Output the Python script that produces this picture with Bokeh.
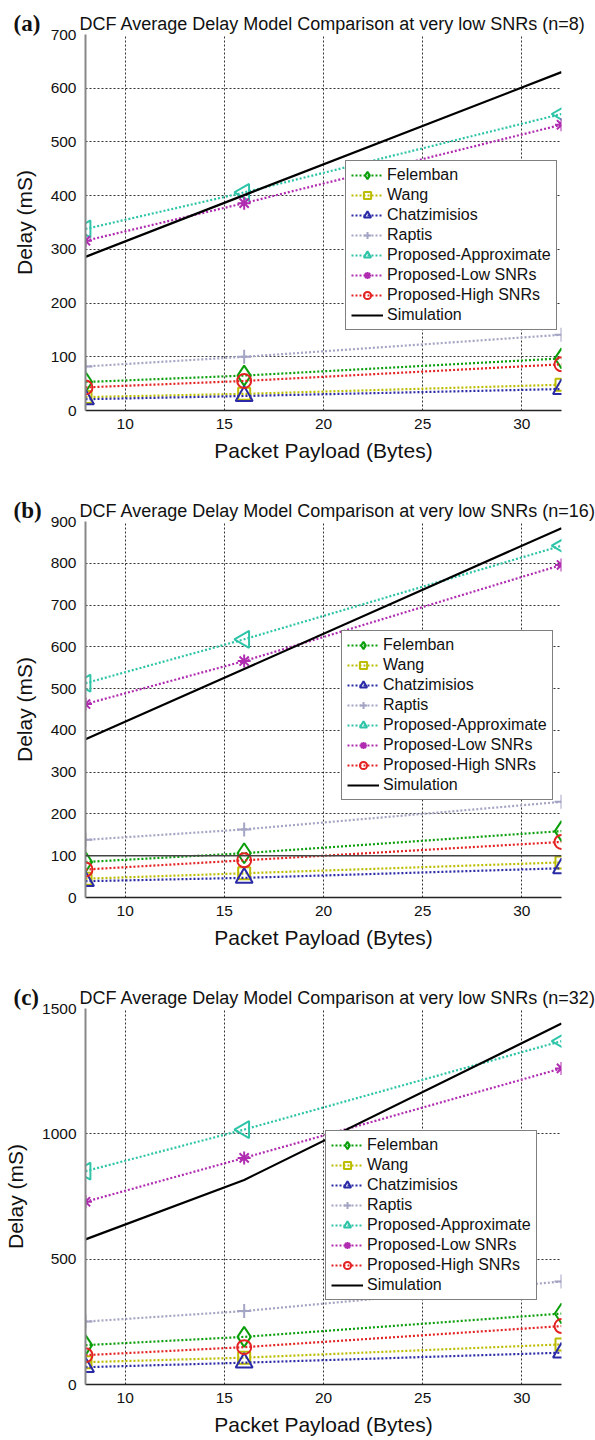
import numpy as np
from bokeh.plotting import figure
from bokeh.models import Legend, LegendItem, Label, Span, FixedTicker, Range1d
from bokeh.layouts import column
from bokeh.embed import file_html
from bokeh.resources import INLINE

# ---------------- data ----------------
payload = [8, 16, 32]
x_ticks = [10, 15, 20, 25, 30]

series_names = ["Felemban", "Wang", "Chatzimisios", "Raptis",
                "Proposed-Approximate", "Proposed-Low SNRs",
                "Proposed-High SNRs", "Simulation"]

# panel (a) n=8
a_felemban = [53, 65, 97]
a_wang = [25, 31, 48]
a_chatz = [21, 27, 40]
a_raptis = [82, 100, 141]
a_approx = [338, 406, 552]
a_low = [316, 386, 532]
a_high = [43, 55, 86]
a_sim = [286, 401, 630]

# panel (b) n=16
b_felemban = [85, 106, 159]
b_wang = [45, 58, 84]
b_chatz = [39, 47, 70]
b_raptis = [138, 163, 229]
b_approx = [513, 618, 842]
b_low = [463, 566, 796]
b_high = [67, 89, 133]
b_sim = [379, 547, 884]
b_ref_level = 100

# panel (c) n=32
c_felemban = [157, 190, 283]
c_wang = [89, 107, 160]
c_chatz = [69, 87, 127]
c_raptis = [251, 293, 411]
c_approx = [851, 1017, 1370]
c_low = [729, 904, 1261]
c_high = [117, 149, 233]
c_sim = [579, 816, 1440]

titles = ["DCF Average Delay Model Comparison at very low SNRs (n=8)",
          "DCF Average Delay Model Comparison at very low SNRs (n=16)",
          "DCF Average Delay Model Comparison at very low SNRs (n=32)"]
panel_tags = ["(a)", "(b)", "(c)"]
y_max = [700, 900, 1500]
y_step = [100, 100, 500]

# ---------------- styles ----------------
styles = [
    dict(color="#0a9e0a", marker="diamond", size=20, angle=0.0),
    dict(color="#bcbc00", marker="square", size=12, angle=0.0),
    dict(color="#2a2aa6", marker="triangle", size=17, angle=0.0),
    dict(color="#a4a4c4", marker="cross", size=14, angle=0.0),
    dict(color="#2ec4a8", marker="triangle", size=17, angle=np.pi / 2),
    dict(color="#b02cb0", marker="asterisk", size=13, angle=0.0),
    dict(color="#e42222", marker="circle", size=14, angle=0.0),
    dict(color="black", marker=None, size=0, angle=0.0),
]

FONT = "Liberation Sans"


def make_panel(idx, data, legend_loc, height, bottom):
    p = figure(width=595, height=height, output_backend="svg",
               toolbar_location=None, title=None,
               x_range=Range1d(8, 32), y_range=Range1d(0, y_max[idx]),
               min_border_left=85, min_border_right=34,
               min_border_top=34, min_border_bottom=bottom)
    p.outline_line_color = None
    p.background_fill_color = "white"
    p.border_fill_color = "white"

    p.xaxis.ticker = FixedTicker(ticks=x_ticks)
    p.yaxis.ticker = FixedTicker(ticks=list(range(0, y_max[idx] + 1, y_step[idx])))
    p.xaxis.axis_label = "Packet Payload (Bytes)"
    p.yaxis.axis_label = "Delay (mS)"
    for ax in (p.xaxis, p.yaxis):
        ax.axis_label_text_font = FONT
        ax.axis_label_text_font_style = "normal"
        ax.axis_label_text_font_size = "21px"
        ax.axis_label_text_color = "#111111"
        ax.major_label_text_font = FONT
        ax.major_label_text_font_size = "15.5px"
        ax.major_label_text_color = "#111111"
        ax.major_tick_in = 0
        ax.major_tick_out = 0
        ax.minor_tick_line_color = None
    p.yaxis.axis_line_color = "#888888"
    p.yaxis.axis_line_width = 2
    p.xaxis.axis_line_color = "#222222"
    p.xaxis.axis_line_width = 1.5
    p.xaxis.major_label_standoff = 8
    p.yaxis.major_label_standoff = 9
    p.xaxis.axis_label_standoff = 7
    p.yaxis.axis_label_standoff = 12

    for g in (p.xgrid, p.ygrid):
        g.grid_line_color = "#333333"
        g.grid_line_dash = "2 2"
        g.grid_line_width = 1

    items = []
    for name, ys, st in zip(series_names, data, styles):
        if st["marker"] is None:
            lr = p.line(payload, ys, line_color=st["color"], line_width=2.2)
            items.append(LegendItem(label=name, renderers=[lr]))
        else:
            lr = p.line(payload, ys, line_color=st["color"], line_width=2.2,
                        line_dash="2 2")
            sr = p.scatter(payload, ys, marker=st["marker"], size=st["size"],
                           angle=st["angle"], line_color=st["color"],
                           line_width=2, fill_alpha=0)
            items.append(LegendItem(label=name, renderers=[lr, sr]))

    legend = Legend(items=items, location=legend_loc)
    legend.border_line_color = "black"
    legend.border_line_width = 1.5
    legend.background_fill_color = "white"
    legend.background_fill_alpha = 1
    legend.label_text_font = FONT
    legend.label_text_font_size = "16px"
    legend.label_text_color = "#111111"
    legend.glyph_width = 32
    legend.glyph_height = 18
    legend.label_height = 18
    legend.label_standoff = 4
    legend.spacing = 2
    legend.padding = 5
    legend.margin = 0
    p.add_layout(legend)

    # title and panel tag placed in side panels so they are not clipped
    p.add_layout(Label(x=8, y=y_max[idx], x_offset=-6, y_offset=11,
                       text=titles[idx], text_font=FONT,
                       text_font_size="18px", text_color="#111111",
                       text_baseline="alphabetic", text_align="left"), "above")
    p.add_layout(Label(x=8, y=y_max[idx], x_offset=-72, y_offset=11,
                       text=panel_tags[idx], text_font="Liberation Serif",
                       text_font_style="bold", text_font_size="23px",
                       text_color="#111111",
                       text_baseline="alphabetic", text_align="left"), "right")
    return p


pa = make_panel(0, [a_felemban, a_wang, a_chatz, a_raptis, a_approx, a_low, a_high, a_sim],
                (260, 80), 487, 77)
pb = make_panel(1, [b_felemban, b_wang, b_chatz, b_raptis, b_approx, b_low, b_high, b_sim],
                (256, 97), 487, 77)
pb.add_layout(Span(location=b_ref_level, dimension="width",
                   line_color="#444444", line_width=1.5))
pc = make_panel(2, [c_felemban, c_wang, c_chatz, c_raptis, c_approx, c_low, c_high, c_sim],
                (240, 84), 466, 56)

layout = column(pa, pb, pc, spacing=0)
open("out.html", "w").write(file_html(layout, INLINE))
